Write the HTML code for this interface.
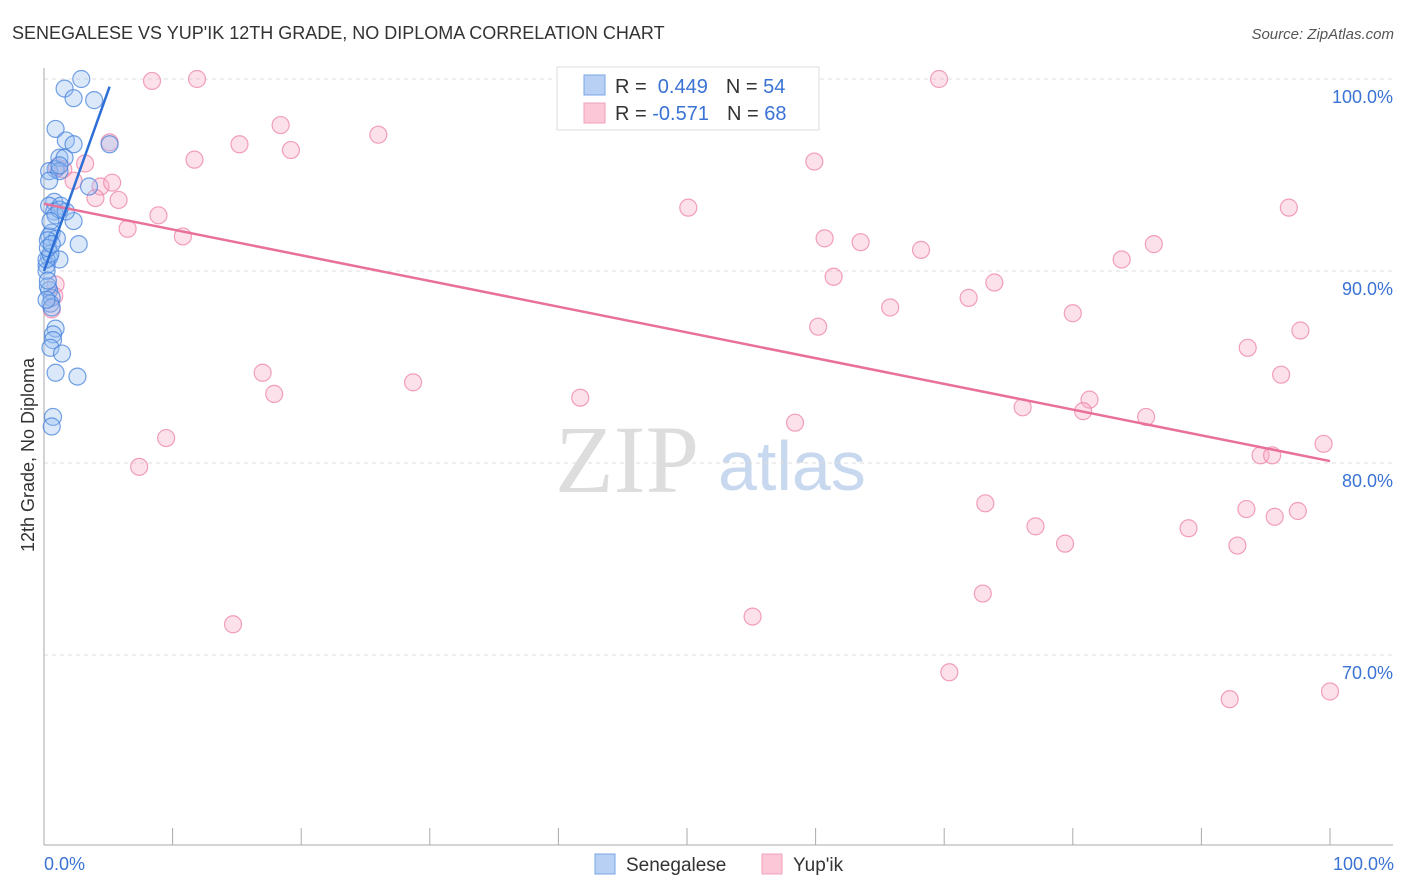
<!DOCTYPE html>
<html><head><meta charset="utf-8"><style>
body{margin:0;background:#fff;font-family:"Liberation Sans",sans-serif}
svg{display:block}
</style></head><body>
<svg id="c" width="1406" height="892">
<text x="12" y="39" font-size="18" fill="#333">SENEGALESE VS YUP'IK 12TH GRADE, NO DIPLOMA CORRELATION CHART</text>
<text x="1394" y="39" font-size="15" fill="#555" font-style="italic" text-anchor="end">Source: ZipAtlas.com</text>
<text x="34" y="455" font-size="18" fill="#333" transform="rotate(-90 34 455)" text-anchor="middle">12th Grade, No Diploma</text>
<text x="555" y="492" font-size="96" fill="#ddd" font-family="Liberation Serif,serif">ZIP</text>
<text x="718" y="490" font-size="70" fill="#c8d8ee">atlas</text>
<g id="grid"></g><g id="axes"></g><g id="pts"></g><g id="trend"></g>
<g>
<rect x="557" y="67" width="262" height="63" fill="#fff" stroke="#ddd"/>
<rect x="584" y="75" width="21" height="20" fill="#b8d0f4" stroke="#7aa6e6"/>
<rect x="584" y="103" width="21" height="20" fill="#fcc8d8" stroke="#f0a0b8"/>
<text x="615" y="93" font-size="20" fill="#333">R = <tspan fill="#3a73d4">&#160;0.449</tspan><tspan dx="18">N = </tspan><tspan fill="#3a73d4">54</tspan></text>
<text x="615" y="120" font-size="20" fill="#333">R = <tspan fill="#3a73d4">-0.571</tspan><tspan dx="18">N = </tspan><tspan fill="#3a73d4">68</tspan></text>
</g>
<g>
<rect x="595" y="854" width="20" height="20" fill="#b8d0f4" stroke="#7aa6e6"/>
<text x="626" y="871" font-size="19" fill="#333">Senegalese</text>
<rect x="762" y="854" width="20" height="20" fill="#fcc8d8" stroke="#f0a0b8"/>
<text x="793" y="871" font-size="19" fill="#333">Yup'ik</text>
</g>
</svg>
<script>
const blueX=[2.9,1.6,2.3,3.9,0.9,1.7,2.3,1.2,1.6,0.9,0.4,1.2,0.4,3.5,5.1,0.8,0.4,1.3,0.8,2.3,0.6,0.4,1.0,2.7,0.3,0.4,1.2,0.2,0.2,0.4,0.6,0.5,0.6,0.9,0.7,0.7,0.5,1.4,0.9,2.6,0.7,0.6,0.3,0.3,0.2,0.9,1.7,0.2,1.2,0.5,0.3,1.2,0.6,0.5];
const blueY=[100,99.5,99.0,98.9,97.4,96.8,96.6,95.9,95.9,95.3,95.2,95.2,94.7,94.4,96.6,93.6,93.4,93.4,93.1,92.6,92.0,91.8,91.7,91.4,91.6,90.7,90.6,90.3,90.0,89.0,88.6,88.3,88.1,87.0,86.7,86.4,86.0,85.7,84.7,84.5,82.4,81.9,89.2,89.5,88.5,92.9,93.1,90.6,93.2,90.9,91.2,95.5,91.4,92.6];
const pinkX=[8.4,11.9,69.6,18.4,26.0,15.2,19.2,11.7,59.9,5.1,3.2,1.0,1.5,2.3,4.4,5.3,5.8,4.0,8.9,6.5,10.8,50.1,96.8,60.7,63.5,68.2,86.3,83.8,61.4,71.9,73.9,65.8,80.0,60.2,97.7,93.6,96.2,17.0,17.9,28.7,41.7,58.4,76.1,81.3,80.8,85.7,9.5,7.4,94.6,95.5,99.5,73.2,77.1,79.4,89.0,93.5,95.7,97.5,92.8,73.0,55.1,14.7,70.4,92.2,100,0.9,0.8,0.6];
const pinkY=[99.9,100,100,97.6,97.1,96.6,96.3,95.8,95.7,96.7,95.6,95.4,95.3,94.7,94.4,94.6,93.7,93.8,92.9,92.2,91.8,93.3,93.3,91.7,91.5,91.1,91.4,90.6,89.7,88.6,89.4,88.1,87.8,87.1,86.9,86.0,84.6,84.7,83.6,84.2,83.4,82.1,82.9,83.3,82.7,82.4,81.3,79.8,80.4,80.4,81.0,77.9,76.7,75.8,76.6,77.6,77.2,77.5,75.7,73.2,72.0,71.6,69.1,67.7,68.1,89.3,88.7,88.0];
const yTicks=[100,90,80,70];
const yTickLabels=["100.0%","90.0%","80.0%","70.0%"];
const xTickLabels=["0.0%","100.0%"];
const blueTrend=[[0,90.0],[5.1,99.6]];
const pinkTrend=[[0,93.5],[100,80.1]];
const NS="http://www.w3.org/2000/svg";
const sx=v=>44+v*12.86, sy=v=>79+(100-v)*19.2;
function mk(p,t,a){const e=document.createElementNS(NS,t);for(const k in a)e.setAttribute(k,a[k]);document.getElementById(p).appendChild(e);return e;}
yTicks.forEach((t,i)=>{
 const l=mk('grid','line',{x1:44,x2:1393,y1:sy(t),y2:sy(t),stroke:'#ddd','stroke-dasharray':'4 4'});
 
 
 const tx=mk('grid','text',{x:1393,y:sy(t)+24,'font-size':18,fill:'#3a73d4','text-anchor':'end'});
 tx.textContent=yTickLabels[i];
 
 
});
let a=mk('axes','line',{x1:44,x2:44,y1:68,y2:845,stroke:'#aaa'});


a=mk('axes','line',{x1:44,x2:1393,y1:845,y2:845,stroke:'#aaa'});


for(let i=0;i<=10;i++){
 const t=mk('axes','line',{x1:sx(i*10),x2:sx(i*10),y1:828,y2:845,stroke:'#aaa'});
 
 
}
[[0,'start'],[100,'end']].forEach((d,i)=>{
 const t=mk('axes','text',{x:sx(d[0])+(i?64:0),y:870,'font-size':18,fill:'#3a73d4','text-anchor':d[1]});
 t.textContent=xTickLabels[i];
 
 
});
pinkX.forEach((x,i)=>{
 const c=mk('pts','circle',{cx:sx(x),cy:sy(pinkY[i]),r:8.5,fill:'rgba(248,170,195,0.35)',stroke:'rgba(236,130,165,0.75)','stroke-width':1.2});
 
 
});
blueX.forEach((x,i)=>{
 const c=mk('pts','circle',{cx:sx(x),cy:sy(blueY[i]),r:8.5,fill:'rgba(150,190,240,0.35)',stroke:'rgba(70,130,220,0.75)','stroke-width':1.2});
 
 
});
let l=mk('trend','line',{x1:sx(pinkTrend[0][0]),y1:sy(pinkTrend[0][1]),x2:sx(pinkTrend[1][0]),y2:sy(pinkTrend[1][1]),stroke:'#e8709a','stroke-width':2.5});


l=mk('trend','line',{x1:sx(blueTrend[0][0]),y1:sy(blueTrend[0][1]),x2:sx(blueTrend[1][0]),y2:sy(blueTrend[1][1]),stroke:'#2d6fd6','stroke-width':2.5});


</script>
</body></html>
